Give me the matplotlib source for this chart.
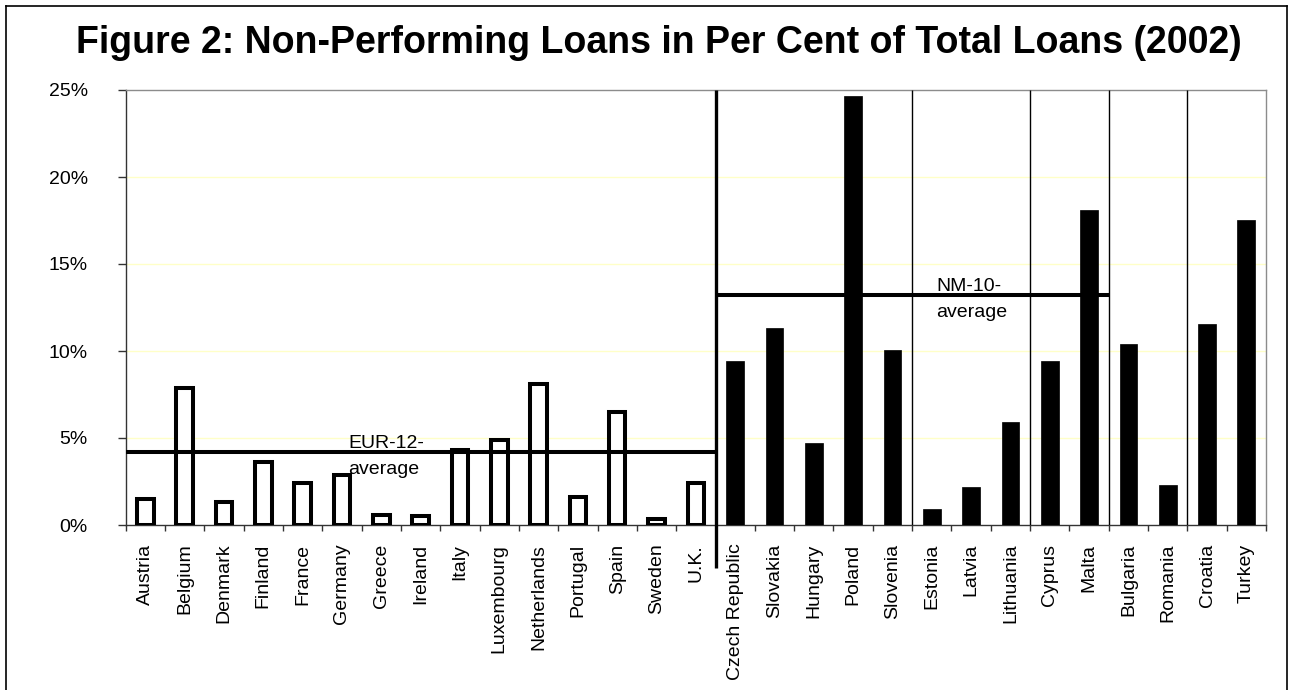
import matplotlib
matplotlib.use("Agg")
import matplotlib.pyplot as plt
from matplotlib.lines import Line2D
from matplotlib.ticker import FixedLocator, FuncFormatter

# ---------------- data ----------------
countries_eu = ["Austria", "Belgium", "Denmark", "Finland", "France", "Germany",
                "Greece", "Ireland", "Italy", "Luxembourg", "Netherlands",
                "Portugal", "Spain", "Sweden", "U.K."]
npl_eu = [1.5, 7.85, 1.35, 3.6, 2.4, 2.85, 0.6, 0.5, 4.3, 4.9, 8.1, 1.6, 6.5, 0.35, 2.4]

countries_nm = ["Czech Republic", "Slovakia", "Hungary", "Poland", "Slovenia",
                "Estonia", "Latvia", "Lithuania", "Cyprus", "Malta",
                "Bulgaria", "Romania", "Croatia", "Turkey"]
npl_nm = [9.45, 11.3, 4.7, 24.65, 10.05, 0.9, 2.2, 5.9, 9.45, 18.1, 10.4, 2.3, 11.55, 17.55]

# country groups on the right-hand side (separated by vertical lines)
nm_group_sizes = [5, 3, 2, 2, 2]
nm10_count = 10

eur12_average = 4.2
nm10_average = 13.2

yticks = [0, 5, 10, 15, 20, 25]
title = "Figure 2: Non-Performing Loans in Per Cent of Total Loans (2002)"

# ---------------- figure ----------------
plt.rcParams['font.family'] = ['Liberation Sans', 'DejaVu Sans']
W, H = 1290, 690
fig = plt.figure(figsize=(W / 100, H / 100), dpi=100)
fig.patch.set_facecolor('white')

x0, x1, y0, y1 = 125.7, 1266.0, 90.0, 525.0
ax = fig.add_axes([x0 / W, 1 - y1 / H, (x1 - x0) / W, (y1 - y0) / H])

n_eu = len(countries_eu)
labels = countries_eu + countries_nm
n_all = len(labels)
pos_eu = list(range(n_eu))
pos_nm = list(range(n_eu, n_all))

ax.set_xlim(-0.5, n_all - 0.5)
ax.set_ylim(0, 25)

# grid
for v in yticks[1:-1]:
    ax.axhline(v, color='#ffffc8', lw=1.0, zorder=0)

# bars
ax.bar(pos_eu, npl_eu, width=0.42, facecolor='white', edgecolor='black',
       linewidth=2.9, zorder=3)
ax.bar(pos_nm, npl_nm, width=0.45, facecolor='black', edgecolor='black',
       linewidth=0.5, zorder=3)

# separators
ax.plot([n_eu - 0.5, n_eu - 0.5], [-2.47, 25], color='black', lw=2.4,
        clip_on=False, zorder=4, solid_capstyle='butt')
b = n_eu
for g in nm_group_sizes[:-1]:
    b += g
    ax.plot([b - 0.5, b - 0.5], [0, 25], color='black', lw=1.0, zorder=4,
            solid_capstyle='butt')

# averages
ax.plot([-0.5, n_eu - 0.5], [eur12_average, eur12_average], color='black',
        lw=2.9, zorder=4, solid_capstyle='butt')
ax.plot([n_eu - 0.5, n_eu + nm10_count - 0.5], [nm10_average, nm10_average],
        color='black', lw=2.9, zorder=4, solid_capstyle='butt')

for xt, avg, name in [(5.16, eur12_average, "EUR-12-"), (20.11, nm10_average, "NM-10-")]:
    ax.annotate(name, xy=(xt, avg), xytext=(0, 3.0), textcoords='offset points',
                ha='left', va='baseline', fontsize=14, zorder=6)
    ax.annotate("average", xy=(xt, avg), xytext=(0, -15.8), textcoords='offset points',
                ha='left', va='baseline', fontsize=14, zorder=6)

# axes styling
for side in ['top', 'right']:
    ax.spines[side].set_color('#8c8c8c')
    ax.spines[side].set_linewidth(1.0)
ax.spines['left'].set_color('#333333')
ax.spines['bottom'].set_color('#333333')
ax.spines['left'].set_linewidth(1.0)
ax.spines['bottom'].set_linewidth(1.0)

ax.yaxis.set_major_locator(FixedLocator(yticks))
ax.yaxis.set_major_formatter(FuncFormatter(lambda v, p: f"{v:.0f}%"))
ax.tick_params(axis='y', direction='out', length=5.8, width=1.0, color='#333333',
               pad=21.5, labelsize=14)

ax.xaxis.set_major_locator(FixedLocator([i - 0.5 for i in range(n_all + 1)]))
ax.xaxis.set_major_formatter(FuncFormatter(lambda v, p: ""))
ax.xaxis.set_minor_locator(FixedLocator(list(range(n_all))))
ax.set_xticklabels(labels, minor=True, rotation=90, fontsize=14, va='top', ha='center')
ax.tick_params(axis='x', which='major', direction='out', length=4.5, width=1.0,
               color='#333333')
ax.tick_params(axis='x', which='minor', length=0, pad=13.5)

# title
fig.text(659 / W, 1 - 53 / H, title, ha='center', va='baseline', fontsize=27,
         fontweight='bold')

# figure border (open at the bottom)
bl, bt, br = 6 / W, 1 - 6 / H, 1286.7 / W
for xs, ys in [([bl, bl], [0, bt]), ([bl, br], [bt, bt]), ([br, br], [bt, 0])]:
    fig.add_artist(Line2D(xs, ys, transform=fig.transFigure, color='black', lw=1.2))

fig.savefig("out.png", dpi=100)
